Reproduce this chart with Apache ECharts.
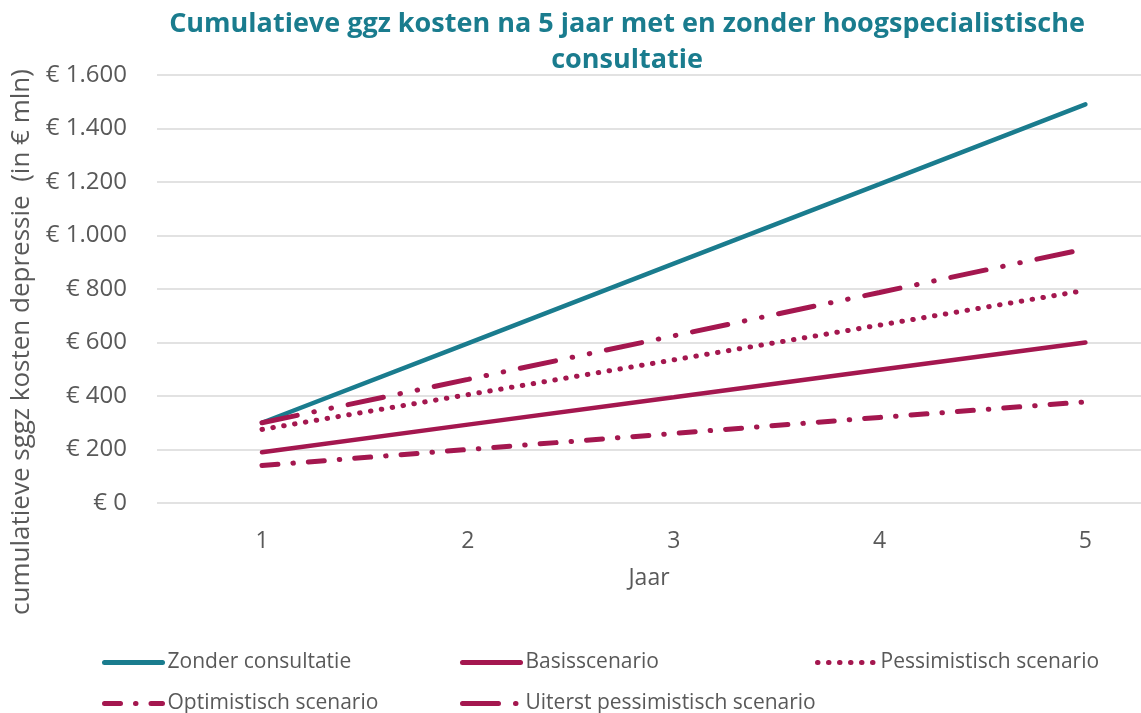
<!DOCTYPE html>
<html>
<head>
<meta charset="utf-8">
<script src="https://cdn.jsdelivr.net/npm/echarts@6/dist/echarts.min.js"></script>
<style>
html,body{margin:0;padding:0;background:#fff;}
#chart{width:1141px;height:713px;}
</style>
</head>
<body>
<div id="chart"></div>
<script>
const years = [1, 2, 3, 4, 5];
const zonderConsultatie = [300, 597, 895, 1192, 1490];
const basisscenario = [190, 293, 395, 498, 600];
const pessimistisch = [275, 405, 535, 665, 795];
const optimistisch = [140, 200, 260, 320, 378];
const uiterstPessimistisch = [300, 462, 625, 787, 950];
const seriesNames = ['Zonder consultatie', 'Basisscenario', 'Pessimistisch scenario', 'Optimistisch scenario', 'Uiterst pessimistisch scenario'];

const titleText = 'Cumulatieve ggz kosten na 5 jaar met en zonder hoogspecialistische\nconsultatie';
const yAxisTitle = 'cumulatieve sggz kosten depressie  (in € mln)';

const teal = '#1a7c8e';
const magenta = '#a4174f';
const font = '"Open Sans", "Noto Sans", sans-serif';

function pairs(v) { return years.map((x, i) => [x, v[i]]); }
function fmt(v) { return '€ ' + String(v).replace(/\B(?=(\d{3})+(?!\d))/g, '.'); }

const legendPos = [[97, 647], [455, 647], [810, 647], [97, 688], [455, 688]];
const legends = seriesNames.map((n, i) => ({
  data: [n], left: legendPos[i][0], top: legendPos[i][1],
  itemWidth: 58, itemHeight: 14, itemGap: 0,
  itemStyle: {opacity: 0, color: 'rgba(0,0,0,0)', borderWidth: 0},
  lineStyle: {width: 5, cap: 'round'},
  textStyle: {fontFamily: font, fontSize: 21, color: '#595959'}
}));

const chart = echarts.init(document.getElementById('chart'), null, {renderer: 'canvas'});
chart.setOption({
  animation: false,
  backgroundColor: '#fff',
  grid: {left: 157, right: 0, top: 75, bottom: 210},
  graphic: [
    {type: 'text', x: 627, y: 42, style: {text: titleText, font: 'bold 27px ' + font, fill: teal, align: 'center', verticalAlign: 'middle', lineHeight: 36}},
    {type: 'text', x: 22, y: 342, rotation: Math.PI / 2, style: {text: yAxisTitle, font: '26px ' + font, fill: '#595959', align: 'center', verticalAlign: 'middle'}}
  ],
  xAxis: {
    type: 'value', min: 0.49, max: 5.27,
    name: 'Jaar', nameLocation: 'middle', nameGap: 64,
    nameTextStyle: {fontFamily: font, fontSize: 23, color: '#595959'},
    axisLine: {show: false}, axisTick: {show: false}, splitLine: {show: false},
    axisLabel: {customValues: years, margin: 27, fontFamily: font, fontSize: 23, color: '#595959'}
  },
  yAxis: {
    type: 'value', min: 0, max: 1600, interval: 200,
    axisLine: {show: false}, axisTick: {show: false},
    splitLine: {lineStyle: {color: '#d9d9d9', width: 1.5}},
    axisLabel: {margin: 30, fontFamily: font, fontSize: 24, color: '#595959', formatter: fmt}
  },
  legend: legends,
  series: [
    {name: seriesNames[0], type: 'line', data: pairs(zonderConsultatie), symbol: 'none', color: teal, lineStyle: {color: teal, width: 4.5, cap: 'round'}},
    {name: seriesNames[1], type: 'line', data: pairs(basisscenario), symbol: 'none', color: magenta, lineStyle: {color: magenta, width: 4.5, cap: 'round'}},
    {name: seriesNames[2], type: 'line', data: pairs(pessimistisch), symbol: 'none', color: magenta, lineStyle: {color: magenta, width: 5, type: [0.5, 10.5], cap: 'round'}},
    {name: seriesNames[3], type: 'line', data: pairs(optimistisch), symbol: 'none', color: magenta, lineStyle: {color: magenta, width: 5, type: [16, 15, 0.5, 15], cap: 'round'}},
    {name: seriesNames[4], type: 'line', data: pairs(uiterstPessimistisch), symbol: 'none', color: magenta, lineStyle: {color: magenta, width: 5, type: [36, 17, 0.5, 17, 0.5, 17], cap: 'round'}}
  ]
});
</script>
</body>
</html>
